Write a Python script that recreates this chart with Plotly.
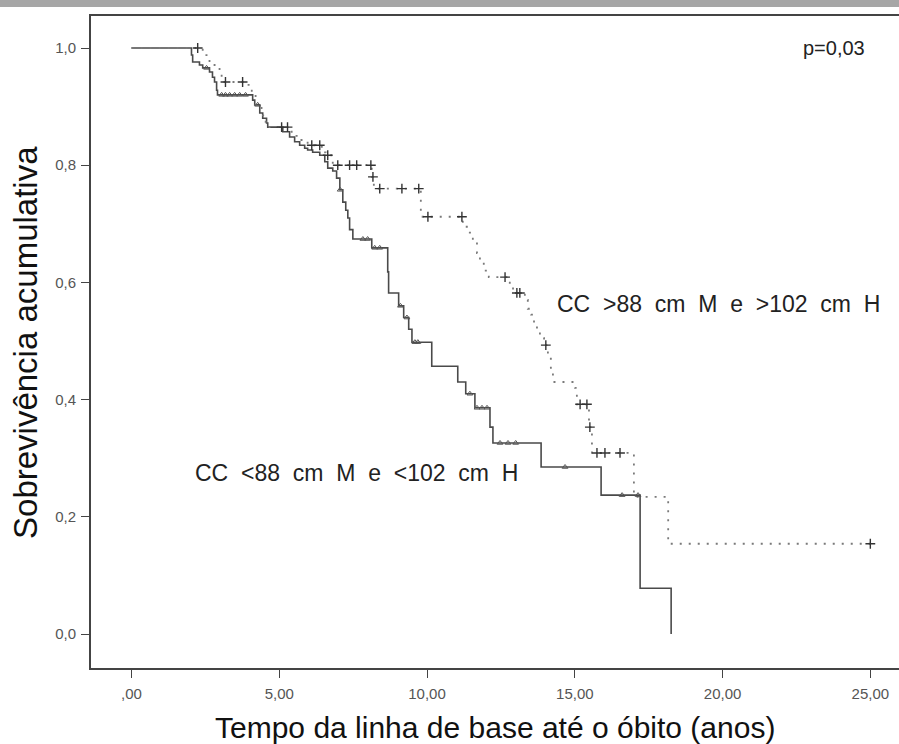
import plotly.graph_objects as go

# ---------------- data ----------------
# Group 1: CC <88 cm M e <102 cm H (solid line)
g1_event_t = [2.03, 2.07, 2.30, 2.41, 2.64, 2.74, 2.81, 2.88, 2.91,
              4.10, 4.17, 4.34, 4.44, 4.57, 4.61, 5.12, 5.35, 5.52, 5.69,
              5.86, 5.96, 6.13, 6.37, 6.54, 6.64, 6.81, 6.94, 7.05, 7.15,
              7.25, 7.32, 7.38, 7.49, 8.13, 8.67, 8.70, 9.04, 9.21, 9.38,
              9.49, 10.16, 11.04, 11.31, 11.62, 12.13, 12.23, 13.86, 15.89,
              17.21, 18.26]
g1_event_s = [0.988, 0.976, 0.971, 0.966, 0.959, 0.950, 0.942, 0.928, 0.920,
              0.911, 0.903, 0.889, 0.880, 0.872, 0.865, 0.857, 0.848, 0.840, 0.834,
              0.829, 0.826, 0.822, 0.817, 0.806, 0.795, 0.790, 0.778, 0.758, 0.737,
              0.723, 0.710, 0.690, 0.674, 0.659, 0.618, 0.582, 0.560, 0.540, 0.520,
              0.498, 0.457, 0.430, 0.410, 0.386, 0.353, 0.326, 0.285, 0.237,
              0.078, 0.000]
g1_cens_t = [2.54, 3.05, 3.18, 3.32, 3.49, 3.66, 3.86, 4.27, 7.06, 7.83, 7.99,
             8.23, 8.40, 9.10, 9.32, 9.59, 9.69, 11.45, 11.69, 11.86, 12.03,
             12.47, 12.74, 13.00, 14.67, 16.60, 17.14]

# Group 2: CC >88 cm M e >102 cm H (dotted line)
g2_event_t = [2.41, 2.64, 2.81, 2.98, 3.05, 3.96, 4.07, 4.20, 4.40, 4.54,
              4.67, 5.42, 5.69, 5.96, 6.44, 6.57, 6.81, 8.13, 8.20, 9.79,
              11.21, 11.38, 11.55, 11.69, 11.79, 11.92, 12.09, 12.80, 12.91,
              13.31, 13.41, 13.52, 13.62, 13.72, 13.82, 13.96, 14.09, 14.19,
              14.26, 15.01, 15.07, 15.48, 15.58, 17.00, 18.16]
g2_event_s = [0.988, 0.976, 0.971, 0.959, 0.942, 0.937, 0.925, 0.900, 0.885, 0.872,
              0.865, 0.850, 0.843, 0.834, 0.822, 0.817, 0.800, 0.780, 0.760, 0.712,
              0.695, 0.685, 0.670, 0.650, 0.635, 0.620, 0.609, 0.595, 0.582,
              0.570, 0.555, 0.545, 0.530, 0.515, 0.505, 0.493, 0.470, 0.447,
              0.430, 0.420, 0.392, 0.353, 0.309, 0.234, 0.154]
g2_cens_t = [2.24, 3.18, 3.76, 5.08, 5.28, 6.10, 6.37, 6.64, 6.98, 7.38, 7.62,
             8.10, 8.17, 8.40, 9.15, 9.72, 10.03, 11.18, 12.64, 13.04, 13.14,
             14.02, 15.18, 15.41, 15.51, 15.75, 16.02, 16.53, 25.00]
g2_end_t = 25.00

x_tick_vals = [0, 5, 10, 15, 20, 25]
x_tick_text = [",00", "5,00", "10,00", "15,00", "20,00", "25,00"]
y_tick_vals = [0.0, 0.2, 0.4, 0.6, 0.8, 1.0]
y_tick_text = ["0,0", "0,2", "0,4", "0,6", "0,8", "1,0"]

x_title = "Tempo da linha de base até o óbito (anos)"
y_title = "Sobrevivência acumulativa"
p_label = "p=0,03"
label_g2 = "CC >88 cm M e >102 cm H"
label_g1 = "CC <88 cm M e <102 cm H"


def step_xy(times, surv, end_t=None):
    xs, ys = [0.0], [1.0]
    for t, s in zip(times, surv):
        xs.append(t)
        ys.append(s)
    if end_t is not None:
        xs.append(end_t)
        ys.append(ys[-1])
    return xs, ys


def surv_at(times, surv, t):
    s = 1.0
    for et, es in zip(times, surv):
        if et <= t:
            s = es
    return s


def wide(text):
    # the original label uses wide word spacing
    return text.replace(" ", " \u00a0")


fig = go.Figure()

x1, y1 = step_xy(g1_event_t, g1_event_s)
fig.add_trace(go.Scatter(x=x1, y=y1, mode="lines", line_shape="hv",
                         line=dict(color="#4a4a4a", width=1.6),
                         showlegend=False, hoverinfo="skip"))
x2, y2 = step_xy(g2_event_t, g2_event_s, g2_end_t)
fig.add_trace(go.Scatter(x=x2, y=y2, mode="lines", line_shape="hv",
                         line=dict(color="#7a7a7a", width=1.8, dash="2px,7px"),
                         showlegend=False, hoverinfo="skip"))

fig.add_trace(go.Scatter(x=g1_cens_t,
                         y=[surv_at(g1_event_t, g1_event_s, t) for t in g1_cens_t],
                         mode="markers",
                         marker=dict(symbol="triangle-up-open", size=5,
                                     color="#555555", line=dict(width=1)),
                         showlegend=False, hoverinfo="skip"))
fig.add_trace(go.Scatter(x=g2_cens_t,
                         y=[surv_at(g2_event_t, g2_event_s, t) for t in g2_cens_t],
                         mode="markers",
                         marker=dict(symbol="cross-thin-open", size=7,
                                     color="#333333", line=dict(width=1.4, color="#333333")),
                         showlegend=False, hoverinfo="skip"))

font_main = "Liberation Sans, Arial, sans-serif"

fig.update_layout(
    width=899, height=744,
    margin=dict(l=91, r=0, t=16, b=76),
    paper_bgcolor="white", plot_bgcolor="white",
    font=dict(family=font_main),
    xaxis=dict(range=[-1.37, 25.97], tickvals=x_tick_vals, ticktext=x_tick_text,
               automargin=False,
               showgrid=False, zeroline=False, showline=True, mirror=True,
               linecolor="#444444", linewidth=2, ticks="outside", ticklen=8,
               tickwidth=1.2, tickcolor="#444444",
               tickfont=dict(size=15, color="#555555"), ticklabelstandoff=3),
    yaxis=dict(range=[-0.058, 1.0546], tickvals=y_tick_vals, ticktext=y_tick_text,
               automargin=False,
               showgrid=False, zeroline=False, showline=True, mirror=False,
               linecolor="#444444", linewidth=2, ticks="outside", ticklen=8,
               tickwidth=1.2, tickcolor="#444444",
               tickfont=dict(size=15, color="#555555"), ticklabelstandoff=2),
    shapes=[dict(type="rect", xref="paper", yref="paper",
                 x0=-0.2, x1=1.0, y0=1.0138, y1=1.03,
                 fillcolor="#a6a6a6", line=dict(width=0), layer="above")],
    annotations=[
        dict(x=0.5, y=-0.0905, xref="paper", yref="paper", text=x_title,
             showarrow=False, xanchor="center", yanchor="middle",
             font=dict(size=30, color="#111111")),
        dict(x=-0.0817, y=0.5, xref="paper", yref="paper", text=y_title,
             showarrow=False, textangle=-90, xanchor="center", yanchor="middle",
             font=dict(size=33, color="#111111")),
        dict(x=23.77, y=1.0, xref="x", yref="y", text=p_label, showarrow=False,
             font=dict(size=20, color="#222222")),
        dict(x=14.32, y=0.563, xref="x", yref="y", xanchor="left",
             text=wide(label_g2), showarrow=False,
             font=dict(size=23, color="#222222")),
        dict(x=2.07, y=0.275, xref="x", yref="y", xanchor="left",
             text=wide(label_g1), showarrow=False,
             font=dict(size=23, color="#222222")),
    ],
)

# remove the browser's default 8px page margin so the figure sits at (0, 0)
fig.write_html("out.html", config={"displayModeBar": False},
               post_script="document.body.style.margin='0px';")
